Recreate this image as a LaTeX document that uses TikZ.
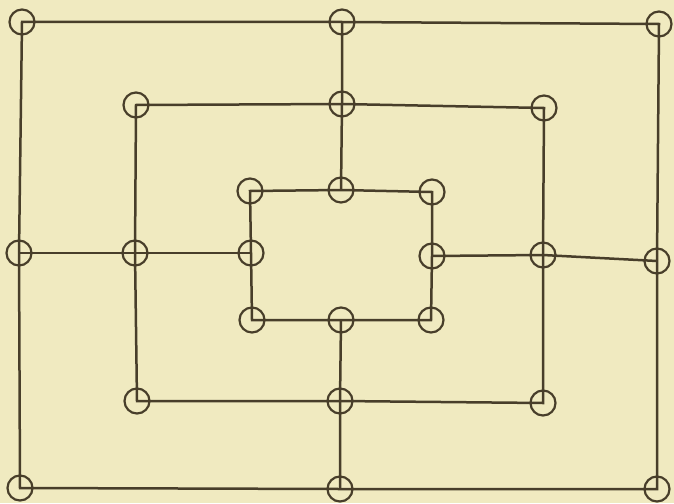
\documentclass[tikz,border=0pt]{standalone}
\definecolor{paper}{RGB}{240,234,192}
\definecolor{ink}{RGB}{72,62,42}
\begin{document}
\begin{tikzpicture}[x=1pt,y=-1pt,
  pt/.style={circle,draw=ink,line width=2.2pt,minimum size=25pt,inner sep=0pt},
  ln/.style={draw=ink,line width=2.5pt,line join=miter}]
\fill[paper] (0,0) rectangle (674,503);
\useasboundingbox (0,0) rectangle (674,503);
% outer
\node[pt] (o1) at (22,22) {};
\node[pt] (o2) at (342,22) {};
\node[pt] (o3) at (659,24) {};
\node[pt] (o4) at (19,253) {};
\node[pt] (o6) at (657,261) {};
\node[pt] (o7) at (20,488) {};
\node[pt] (o8) at (340,489) {};
\node[pt] (o9) at (657,489) {};
% middle
\node[pt] (m1) at (136,105) {};
\node[pt] (m2) at (342,104) {};
\node[pt] (m3) at (544,108) {};
\node[pt] (m4) at (135,253) {};
\node[pt] (m6) at (543,255) {};
\node[pt] (m7) at (137,401) {};
\node[pt] (m8) at (340,401) {};
\node[pt] (m9) at (543,403) {};
% inner
\node[pt] (i1) at (250,191) {};
\node[pt] (i2) at (341,190) {};
\node[pt] (i3) at (432,192) {};
\node[pt] (i4) at (251,253) {};
\node[pt] (i6) at (432,256) {};
\node[pt] (i7) at (252,320) {};
\node[pt] (i8) at (341,320) {};
\node[pt] (i9) at (431,320) {};
% squares
\path[ln] (o1.center) -- (o2.center) -- (o3.center) -- (o6.center) -- (o9.center) -- (o8.center) -- (o7.center) -- (o4.center) -- cycle;
\path[ln] (m1.center) -- (m2.center) -- (m3.center) -- (m6.center) -- (m9.center) -- (m8.center) -- (m7.center) -- (m4.center) -- cycle;
\path[ln] (i1.center) -- (i2.center) -- (i3.center) -- (i6.center) -- (i9.center) -- (i8.center) -- (i7.center) -- (i4.center) -- cycle;
% cross lines
\path[ln] (o2.center) -- (m2.center) -- (i2.center);
\path[ln] (o4.center) -- (m4.center) -- (i4.center);
\path[ln] (i6.center) -- (m6.center) -- (o6.center);
\path[ln] (i8.center) -- (m8.center) -- (o8.center);
\end{tikzpicture}
\end{document}
